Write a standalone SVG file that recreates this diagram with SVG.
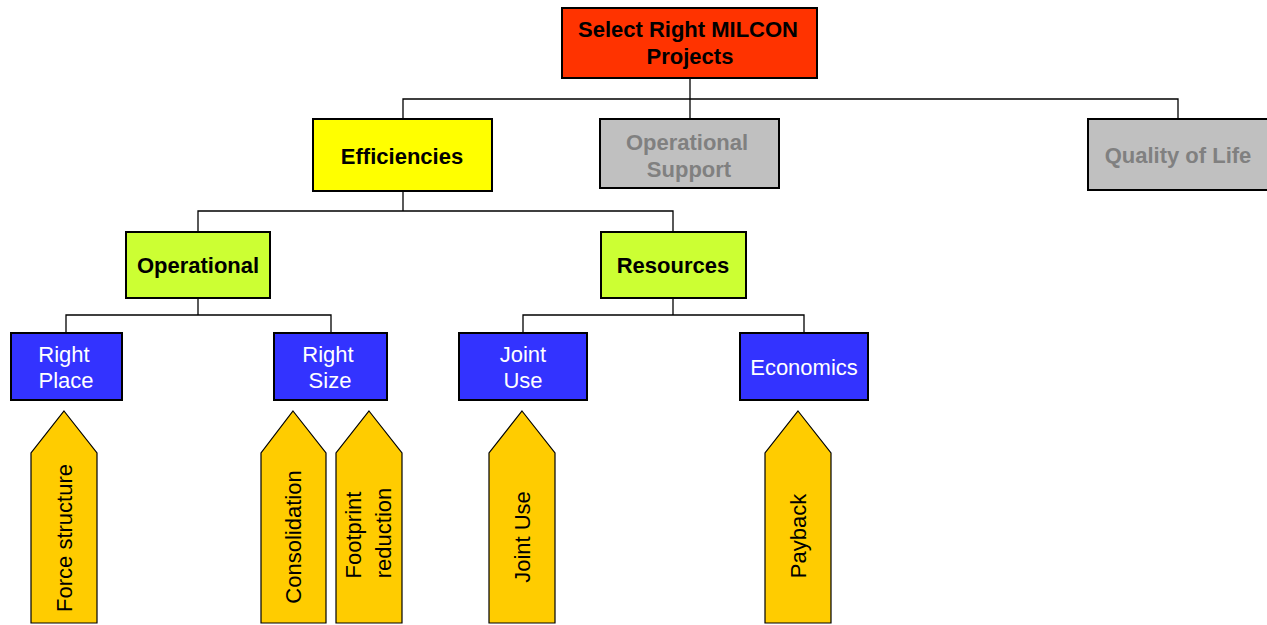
<svg xmlns="http://www.w3.org/2000/svg" width="1267" height="625" viewBox="0 0 1267 625">
  <style>
    .box { stroke: #000; stroke-width: 2; }
    .red { fill: #FF3300; }
    .yellow { fill: #FFFF00; }
    .gray { fill: #C0C0C0; }
    .green { fill: #CCFF33; }
    .blue { fill: #3333FF; }
    .arrow { fill: #FFCC00; stroke: #000; stroke-width: 1.2; }
    .conn { fill: none; stroke: #000; stroke-width: 1.3; }
    text { font-family: "Liberation Sans", Arial, sans-serif; font-size: 22px; text-anchor: middle; }
    .b { font-weight: bold; fill: #000; }
    .g { font-weight: bold; fill: #808080; }
    .w { fill: #fff; }
    .k { fill: #000; }
  </style>

  <!-- tree connectors -->
  <g id="connectors">
    <polyline class="conn" points="690,78 690,119"/>
    <polyline class="conn" points="403,119 403,99 1178,99 1178,119"/>
    <polyline class="conn" points="403,191 403,211"/>
    <polyline class="conn" points="198,232 198,211 673,211 673,232"/>
    <polyline class="conn" points="198,298 198,315"/>
    <polyline class="conn" points="66,333 66,315 331,315 331,333"/>
    <polyline class="conn" points="673,298 673,315"/>
    <polyline class="conn" points="523,333 523,315 804,315 804,333"/>
  </g>

  <g id="root">
    <rect class="box red" x="562" y="8" width="255" height="70"/>
    <text class="b" x="688" y="37">Select Right MILCON</text>
    <text class="b" x="690" y="64">Projects</text>
  </g>

  <g id="efficiencies">
    <rect class="box yellow" x="313" y="119" width="179" height="72"/>
    <text class="b" x="402" y="164">Efficiencies</text>
  </g>

  <g id="operational-support">
    <rect class="box gray" x="600" y="119" width="179" height="69"/>
    <text class="g" x="687" y="150">Operational</text>
    <text class="g" x="689" y="177">Support</text>
  </g>

  <g id="quality-of-life">
    <rect class="box gray" x="1088" y="119" width="182" height="71"/>
    <text class="g" x="1178" y="163">Quality of Life</text>
  </g>

  <g id="operational">
    <rect class="box green" x="126" y="232" width="144" height="66"/>
    <text class="b" x="198" y="273">Operational</text>
  </g>

  <g id="resources">
    <rect class="box green" x="601" y="232" width="145" height="66"/>
    <text class="b" x="673" y="273">Resources</text>
  </g>

  <g id="right-place">
    <rect class="box blue" x="11" y="333" width="111" height="67"/>
    <text class="w" x="64" y="362">Right</text>
    <text class="w" x="66" y="388">Place</text>
  </g>

  <g id="right-size">
    <rect class="box blue" x="274" y="333" width="113" height="67"/>
    <text class="w" x="328" y="362">Right</text>
    <text class="w" x="330" y="388">Size</text>
  </g>

  <g id="joint-use">
    <rect class="box blue" x="459" y="333" width="128" height="67"/>
    <text class="w" x="523" y="362">Joint</text>
    <text class="w" x="523" y="388">Use</text>
  </g>

  <g id="economics">
    <rect class="box blue" x="740" y="333" width="128" height="67"/>
    <text class="w" x="804" y="375">Economics</text>
  </g>

  <!-- upward pointing labels -->
  <g id="arrow-force-structure">
    <polygon class="arrow" points="64,411 97,453 97,623 31,623 31,453"/>
    <text class="k" transform="translate(72,538) rotate(-90)">Force structure</text>
  </g>

  <g id="arrow-consolidation">
    <polygon class="arrow" points="293,411 326,453 326,623 261,623 261,453"/>
    <text class="k" transform="translate(301,537) rotate(-90)">Consolidation</text>
  </g>

  <g id="arrow-footprint">
    <polygon class="arrow" points="369,411 402,453 402,623 336,623 336,453"/>
    <text class="k" transform="translate(361,535) rotate(-90)">Footprint</text>
    <text class="k" transform="translate(391,533) rotate(-90)">reduction</text>
  </g>

  <g id="arrow-joint-use">
    <polygon class="arrow" points="522,411 555,453 555,623 489,623 489,453"/>
    <text class="k" transform="translate(530,537) rotate(-90)">Joint Use</text>
  </g>

  <g id="arrow-payback">
    <polygon class="arrow" points="798,411 831,453 831,623 765,623 765,453"/>
    <text class="k" transform="translate(806,536) rotate(-90)">Payback</text>
  </g>
</svg>
